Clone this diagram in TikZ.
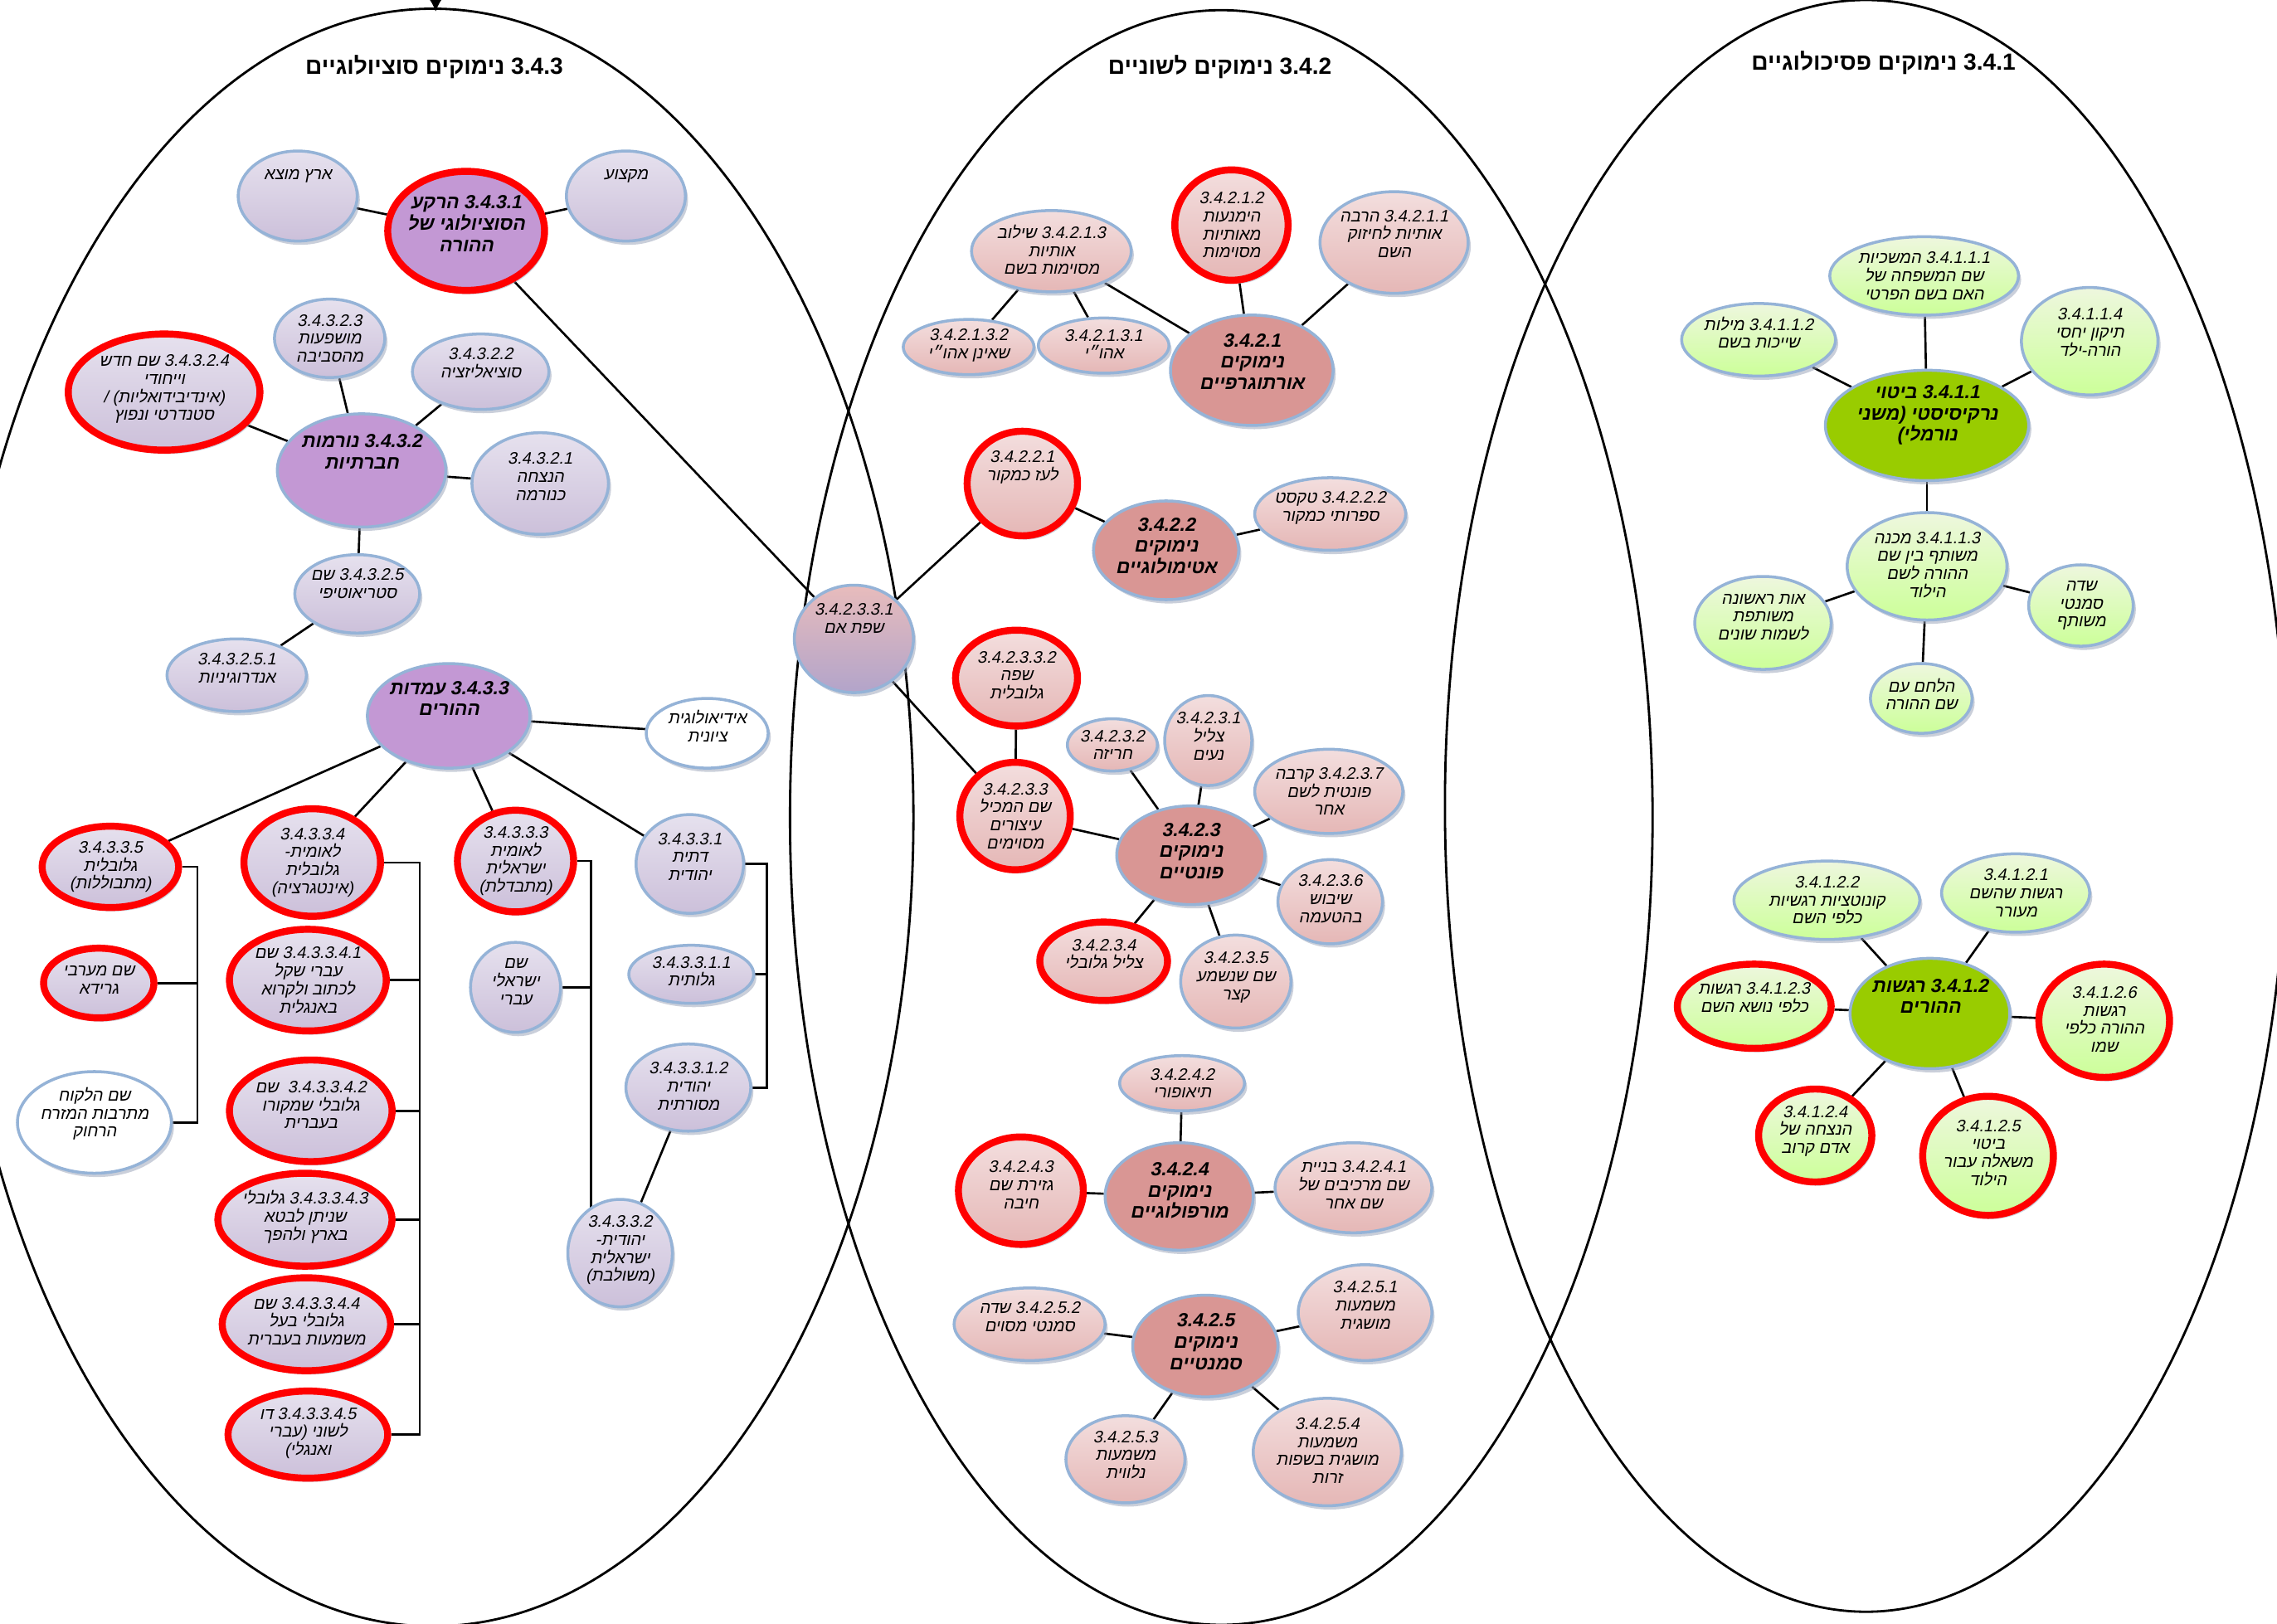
\documentclass[tikz,border=0pt]{standalone}
\usepackage{fontspec}
\usetikzlibrary{shapes.geometric,shadows,calc,arrows.meta}
\TeXXeTstate=1
\newfontfamily\hebit[Script=Hebrew,FakeSlant=0.2]{Liberation Sans}
\newfontfamily\hebbfit[Script=Hebrew,FakeSlant=0.2]{Liberation Sans Bold}
\newfontfamily\hebbf[Script=Hebrew]{Liberation Sans Bold}
\newcommand\RR[1]{\beginR#1\endR}
\newcommand\NN[1]{\beginL#1\endL}
\definecolor{purT}{RGB}{230,225,238}
\definecolor{purB}{RGB}{204,192,218}
\definecolor{purM}{RGB}{195,152,212}
\definecolor{pinkT}{RGB}{243,222,222}
\definecolor{pinkB}{RGB}{229,183,182}
\definecolor{pinkM}{RGB}{217,150,148}
\definecolor{grT}{RGB}{238,247,222}
\definecolor{grB}{RGB}{204,255,153}
\definecolor{grM}{RGB}{153,204,0}
\definecolor{midT}{RGB}{232,188,188}
\definecolor{midB}{RGB}{178,164,202}
\definecolor{bord}{RGB}{149,179,215}
\definecolor{shad}{RGB}{150,160,182}
\pgfdeclarelayer{bg}
\pgfsetlayers{bg,main}
\tikzset{
 bubble/.style={ellipse, inner sep=0pt, draw=bord, line width=1pt,
   drop shadow={shadow xshift=0.9pt, shadow yshift=-1.3pt, fill=shad}},
 lpur/.style={bubble, top color=purT, bottom color=purB},
 mpur/.style={bubble, fill=purM},
 lpink/.style={bubble, top color=pinkT, bottom color=pinkB},
 mpink/.style={bubble, fill=pinkM},
 lgreen/.style={bubble, top color=grT, bottom color=grB},
 mgreen/.style={bubble, fill=grM},
 wht/.style={bubble, fill=white},
 mid/.style={bubble, top color=midT, bottom color=midB},
 rb/.style={draw=red, line width=2.4pt},
 tx/.style={inner sep=0pt, align=center, font=\hebit\fontsize{5.7}{6.2}\selectfont},
 tb/.style={inner sep=0pt, align=center, font=\hebbfit\fontsize{6.5}{7.3}\selectfont},
 ttl/.style={inner sep=0pt, font=\hebbf\fontsize{8}{9.5}\selectfont},
 conn/.style={line width=0.75pt, draw=black},
 big/.style={line width=0.8pt, draw=black},
}
\newcommand\bb[8]{%
  \node[#1, minimum width=#5*0.035cm, minimum height=#6*0.035cm] (#3) at (#4) {};
  \node[#2] (#3t) at ($(#3.center)+(0,#7)$) {#8};
}
\begin{document}
\begin{tikzpicture}[x=0.0175cm, y=-0.0175cm]
\useasboundingbox (0,0) rectangle (1568,1118);
\begin{pgfonlayer}{bg}
\fill[white] (0,0) rectangle (1568,1118);
\draw[big] (298,563) ellipse [x radius=331, y radius=557];
\draw[big] (841,563) ellipse [x radius=297, y radius=556];
\draw[big] (1285,555) ellipse [x radius=290, y radius=555];
\end{pgfonlayer}

% titles
\node[ttl] (T3) at (299,46) {\RR{\NN{3.4.3} נימוקים סוציולוגיים}};
\node[ttl] (T2) at (840,46) {\RR{\NN{3.4.2} נימוקים לשוניים}};
\node[ttl] (T1) at (1297,43) {\RR{\NN{3.4.1} נימוקים פסיכולוגיים}};
\coordinate (arrS) at (300,-40);
\coordinate (arrE) at (300,8);
\draw[conn,-{Latex[length=5pt,width=5.5pt]}] (arrS) -- (arrE);

% ---- left: sociological
\bb{lpur}{tx}{arz}{205,135}{41}{31}{-14}{\RR{ארץ מוצא}}
\bb{lpur}{tx}{mkz}{431,135}{41}{31}{-14}{\RR{מקצוע}}
\bb{mpur,rb}{tb}{n3431}{321,159}{54}{41}{-5}{\RR{\NN{3.4.3.1} הרקע}\\\RR{הסוציולוגי של}\\\RR{ההורה}}
\bb{lpur}{tx}{n34323}{227,233}{38}{27}{0}{\NN{3.4.3.2.3}\\\RR{מושפעות}\\\RR{מהסביבה}}
\bb{lpur}{tx}{n34322}{331,256}{47}{26}{-6}{\NN{3.4.3.2.2}\\\RR{סוציאליזציה}}
\bb{lpur,rb}{tx}{n34324}{113,270}{66}{40}{-2}{\RR{\NN{3.4.3.2.4} שם חדש}\\\RR{וייחודי}\\\RR{(אינדיבידואליות) /}\\\RR{סטנדרטי ונפוץ}}
\bb{mpur}{tb}{n3432}{249,324}{58}{39}{-13}{\RR{\NN{3.4.3.2} נורמות}\\\RR{חברתיות}}
\bb{lpur}{tx}{n34321}{372,333}{47}{35}{-5}{\NN{3.4.3.2.1}\\\RR{הנצחה}\\\RR{כנורמה}}
\bb{lpur}{tx}{n34325}{246,409}{43}{27}{-7}{\RR{\NN{3.4.3.2.5} שם}\\\RR{סטריאוטיפי}}
\bb{lpur}{tx}{n343251}{163,465}{48}{25}{-5}{\NN{3.4.3.2.5.1}\\\RR{אנדרוגיניות}}
\bb{mpur}{tb}{n3433}{309,493}{56}{36}{-12}{\RR{\NN{3.4.3.3} עמדות}\\\RR{ההורים}}
\bb{wht}{tx}{ideo}{487,505}{42}{24}{-5}{\RR{אידיאולוגית}\\\RR{ציונית}}
\bb{lpur,rb}{tx}{n34335}{76,597}{47}{28}{0}{\NN{3.4.3.3.5}\\\RR{גלובלית}\\\RR{(מתבוללות)}}
\bb{lpur,rb}{tx}{n34334}{215,594}{47}{37}{0}{\NN{3.4.3.3.4}\\\RR{לאומית\hbox{-}}\\\RR{גלובלית}\\\RR{(אינטגרציה)}}
\bb{lpur,rb}{tx}{n34333}{355,593}{40}{35}{0}{\NN{3.4.3.3.3}\\\RR{לאומית}\\\RR{ישראלית}\\\RR{(מתבדלת)}}
\bb{lpur}{tx}{n34331}{475,595}{37}{34}{-5}{\NN{3.4.3.3.1}\\\RR{דתית}\\\RR{יהודית}}
\bb{lpur,rb}{tx}{mrv}{68,677}{38}{24}{-2}{\RR{שם מערבי}\\\RR{גרידא}}
\bb{lpur,rb}{tx}{n343341}{212,675}{54}{35}{0}{\RR{\NN{3.4.3.3.4.1} שם}\\\RR{עברי שקל}\\\RR{לכתוב ולקרוא}\\\RR{באנגלית}}
\bb{lpur}{tx}{isr}{355,680}{31}{31}{-4}{\RR{שם}\\\RR{ישראלי}\\\RR{עברי}}
\bb{lpur}{tx}{n343311}{476,671}{43}{20}{-2}{\NN{3.4.3.3.1.1}\\\RR{גלותית}}
\bb{wht}{tx}{far}{65,773}{53}{35}{-6}{\RR{שם הלקוח}\\\RR{מתרבות המזרח}\\\RR{הרחוק}}
\bb{lpur,rb}{tx}{n343342}{214,765}{56}{35}{-4}{\RR{\NN{3.4.3.3.4.2}\ \ שם}\\\RR{גלובלי שמקורו}\\\RR{בעברית}}
\bb{lpur}{tx}{n343312}{474,749}{43}{30}{-1}{\NN{3.4.3.3.1.2}\\\RR{יהודית}\\\RR{מסורתית}}
\bb{lpur,rb}{tx}{n343343}{210,840}{60}{32}{-2}{\RR{\NN{3.4.3.3.4.3} גלובלי}\\\RR{שניתן לבטא}\\\RR{בארץ ולהפך}}
\bb{lpur}{tx}{n34332}{427,863}{36}{37}{-2}{\NN{3.4.3.3.2}\\\RR{יהודית\hbox{-}}\\\RR{ישראלית}\\\RR{(משולבת)}}
\bb{lpur,rb}{tx}{n343344}{211,912}{58}{32}{-2}{\RR{\NN{3.4.3.3.4.4} שם}\\\RR{גלובלי בעל}\\\RR{משמעות בעברית}}
\bb{lpur,rb}{tx}{n343345}{212,988}{55}{30}{-1}{\RR{\NN{3.4.3.3.4.5} דו}\\\RR{לשוני (עברי}\\\RR{ואנגלי)}}

% ---- middle: linguistic
\bb{mid}{tx}{em}{588,440}{41}{37}{-14}{\NN{3.4.2.3.3.1}\\\RR{שפת אם}}
\bb{lpink,rb}{tx}{n34212}{848,155}{39}{38}{0}{\NN{3.4.2.1.2}\\\RR{הימנעות}\\\RR{מאותיות}\\\RR{מסוימות}}
\bb{lpink}{tx}{n34211}{960,167}{51}{35}{-6}{\RR{\NN{3.4.2.1.1} הרבה}\\\RR{אותיות לחיזוק}\\\RR{השם}}
\bb{lpink}{tx}{n34213}{724,173}{55}{28}{-1}{\RR{\NN{3.4.2.1.3} שילוב}\\\RR{אותיות}\\\RR{מסוימות בשם}}
\bb{lpink}{tx}{n342132}{667,239}{45}{19}{-1}{\NN{3.4.2.1.3.2}\\\RR{שאינן אהו״י}}
\bb{lpink}{tx}{n342131}{760,238}{45}{19}{-1}{\NN{3.4.2.1.3.1}\\\RR{אהו״י}}
\bb{mpink}{tb}{n3421}{862,255}{56}{38}{-6}{\NN{3.4.2.1}\\\RR{נימוקים}\\\RR{אורתוגרפיים}}
\bb{lpink,rb}{tx}{n34221}{704,333}{38}{36}{-11}{\NN{3.4.2.2.1}\\\RR{לעז כמקור}}
\bb{mpink}{tb}{n3422}{803,379}{50}{34}{-3}{\NN{3.4.2.2}\\\RR{נימוקים}\\\RR{אטימולוגיים}}
\bb{lpink}{tx}{n34222}{916,354}{52}{25}{-4}{\RR{\NN{3.4.2.2.2} טקסט}\\\RR{ספרותי כמקור}}
\bb{lpink,rb}{tx}{n342332}{700,467}{42}{33}{-2}{\NN{3.4.2.3.3.2}\\\RR{שפה}\\\RR{גלובלית}}
\bb{lpink,rb}{tx}{n34233}{699,562}{38}{37}{0}{\NN{3.4.2.3.3}\\\RR{שם המכיל}\\\RR{עיצורים}\\\RR{מסוימים}}
\bb{lpink}{tx}{n34232}{766,513}{31}{18}{0}{\NN{3.4.2.3.2}\\\RR{חריזה}}
\bb{lpink}{tx}{n34231}{832,510}{30}{31}{-3}{\NN{3.4.2.3.1}\\\RR{צליל}\\\RR{נעים}}
\bb{lpink}{tx}{n34237}{915,545}{51}{29}{0}{\RR{\NN{3.4.2.3.7} קרבה}\\\RR{פונטית לשם}\\\RR{אחר}}
\bb{mpink}{tb}{n3423}{820,589}{51}{34}{-3}{\NN{3.4.2.3}\\\RR{נימוקים}\\\RR{פונטיים}}
\bb{lpink}{tx}{n34236}{916,621}{36}{29}{-2}{\NN{3.4.2.3.6}\\\RR{שיבוש}\\\RR{בהטעמה}}
\bb{lpink,rb}{tx}{n34234}{760,662}{44}{27}{-5}{\NN{3.4.2.3.4}\\\RR{צליל גלובלי}}
\bb{lpink}{tx}{n34235}{851,676}{38}{32}{-3}{\NN{3.4.2.3.5}\\\RR{שם שנשמע}\\\RR{קצר}}
\bb{lpink}{tx}{n34242}{814,746}{43}{19}{0}{\NN{3.4.2.4.2}\\\RR{תיאופורי}}
\bb{lpink,rb}{tx}{n34243}{703,820}{43}{37}{-4}{\NN{3.4.2.4.3}\\\RR{גזירת שם}\\\RR{חיבה}}
\bb{mpink}{tb}{n3424}{812,824}{51}{37}{-4}{\NN{3.4.2.4}\\\RR{נימוקים}\\\RR{מורפולוגיים}}
\bb{lpink}{tx}{n34241}{932,818}{54}{31}{-2}{\RR{\NN{3.4.2.4.1} בניית}\\\RR{שם מרכיבים של}\\\RR{שם אחר}}
\bb{lpink}{tx}{n34252}{709,912}{52}{25}{-5}{\RR{\NN{3.4.2.5.2} שדה}\\\RR{סמנטי מסוים}}
\bb{mpink}{tb}{n3425}{830,927}{50}{35}{-3}{\NN{3.4.2.5}\\\RR{נימוקים}\\\RR{סמנטיים}}
\bb{lpink}{tx}{n34251}{940,904}{46}{33}{-5}{\NN{3.4.2.5.1}\\\RR{משמעות}\\\RR{מושגית}}
\bb{lpink}{tx}{n34253}{775,1005}{41}{30}{-3}{\NN{3.4.2.5.3}\\\RR{משמעות}\\\RR{נלווית}}
\bb{lpink}{tx}{n34254}{914,1000}{51}{37}{-1}{\NN{3.4.2.5.4}\\\RR{משמעות}\\\RR{מושגית בשפות}\\\RR{זרות}}

% ---- right: psychological
\bb{lgreen}{tx}{n34111}{1325,190}{65}{27}{0}{\RR{\NN{3.4.1.1.1} המשכיות}\\\RR{שם המשפחה של}\\\RR{האם בשם הפרטי}}
\bb{lgreen}{tx}{n34112}{1211,234}{53}{25}{-5}{\RR{\NN{3.4.1.1.2} מילות}\\\RR{שייכות בשם}}
\bb{lgreen}{tx}{n34114}{1439,235}{47}{37}{-6}{\NN{3.4.1.1.4}\\\RR{תיקון יחסי}\\\RR{הורה-ילד}}
\bb{mgreen}{tb}{n3411}{1327,293}{70}{38}{-7}{\RR{\NN{3.4.1.1} ביטוי}\\\RR{נרקיסיסטי (משני}\\\RR{נורמלי)}}
\bb{lgreen}{tx}{n34113}{1327,390}{55}{37}{-1}{\RR{\NN{3.4.1.1.3} מכנה}\\\RR{משותף בין שם}\\\RR{ההורה לשם}\\\RR{הילוד}}
\bb{lgreen}{tx}{ot}{1214,429}{47}{32}{-4}{\RR{אות ראשונה}\\\RR{משותפת}\\\RR{לשמות שונים}}
\bb{lgreen}{tx}{sade}{1433,417}{36}{28}{0}{\RR{שדה}\\\RR{סמנטי}\\\RR{משותף}}
\bb{lgreen}{tx}{hel}{1323,481}{35}{24}{-3}{\RR{הלחם עם}\\\RR{שם ההורה}}
\bb{lgreen}{tx}{n34122}{1258,620}{64}{27}{0}{\NN{3.4.1.2.2}\\\RR{קונוטציות רגשיות}\\\RR{כלפי השם}}
\bb{lgreen}{tx}{n34121}{1388,615}{51}{27}{0}{\NN{3.4.1.2.1}\\\RR{רגשות שהשם}\\\RR{מעורר}}
\bb{lgreen,rb}{tx}{n34123}{1208,693}{53}{29}{-6}{\RR{\NN{3.4.1.2.3} רגשות}\\\RR{כלפי נושא השם}}
\bb{mgreen}{tb}{n3412}{1329,698}{55}{38}{-12}{\RR{\NN{3.4.1.2} רגשות}\\\RR{ההורים}}
\bb{lgreen,rb}{tx}{n34126}{1449,703}{45}{39}{-1}{\NN{3.4.1.2.6}\\\RR{רגשות}\\\RR{ההורה כלפי}\\\RR{שמו}}
\bb{lgreen,rb}{tx}{n34124}{1250,782}{39}{32}{-3}{\NN{3.4.1.2.4}\\\RR{הנצחה של}\\\RR{אדם קרוב}}
\bb{lgreen,rb}{tx}{n34125}{1369,796}{45}{41}{-2}{\NN{3.4.1.2.5}\\\RR{ביטוי}\\\RR{משאלה עבור}\\\RR{הילוד}}

% ---- connectors
\coordinate (v5) at (136,600);
\coordinate (v4) at (289,600);
\coordinate (v3) at (407,600);
\coordinate (v1) at (528,600);
\begin{pgfonlayer}{bg}
\draw[conn] (arz) -- (n3431);
\draw[conn] (mkz) -- (n3431);
\draw[conn] (n3431) -- (em);
\foreach \t in {n34323,n34322,n34324,n34321,n34325} \draw[conn] (n3432) -- (\t);
\draw[conn] (n34325) -- (n343251);
\foreach \t in {ideo,n34335,n34334,n34333,n34331} \draw[conn] (n3433) -- (\t);
% brackets
\draw[conn] (n34335.east) -- (n34335.east -| v5) -- (far.east -| v5) -- (far.east);
\draw[conn] (mrv.east) -- (mrv.east -| v5);
\draw[conn] (n34334.east) -- (n34334.east -| v4) -- (n343345.east -| v4) -- (n343345.east);
\foreach \t in {n343341,n343342,n343343,n343344} \draw[conn] (\t.east) -- (\t.east -| v4);
\draw[conn] (n34333.east) -- (n34333.east -| v3) -- (v3 |- n34332.center);
\draw[conn] (isr.east) -- (isr.east -| v3);
\draw[conn] (n34331.east) -- (n34331.east -| v1) -- (n343312.east -| v1) -- (n343312.east);
\draw[conn] (n343311.east) -- (n343311.east -| v1);
\draw[conn] (n343312) -- (n34332);
% middle
\draw[conn] (em) -- (n34221);
\draw[conn] (n34221) -- (n3422);
\draw[conn] (n3422) -- (n34222);
\draw[conn] (em) -- (n34233);
\draw[conn] (n342332) -- (n34233);
\draw[conn] (n34233) -- (n3423);
\foreach \t in {n34232,n34231,n34237,n34236,n34235,n34234} \draw[conn] (n3423) -- (\t);
\foreach \t in {n34212,n34211,n34213} \draw[conn] (n3421) -- (\t);
\foreach \t in {n342132,n342131} \draw[conn] (n34213) -- (\t);
\foreach \t in {n34242,n34243,n34241} \draw[conn] (n3424) -- (\t);
\foreach \t in {n34252,n34251,n34253,n34254} \draw[conn] (n3425) -- (\t);
% right
\foreach \t in {n34111,n34112,n34114,n34113} \draw[conn] (n3411) -- (\t);
\foreach \t in {ot,sade,hel} \draw[conn] (n34113) -- (\t);
\foreach \t in {n34122,n34121,n34123,n34126,n34124,n34125} \draw[conn] (n3412) -- (\t);
\end{pgfonlayer}
\end{tikzpicture}
\end{document}
